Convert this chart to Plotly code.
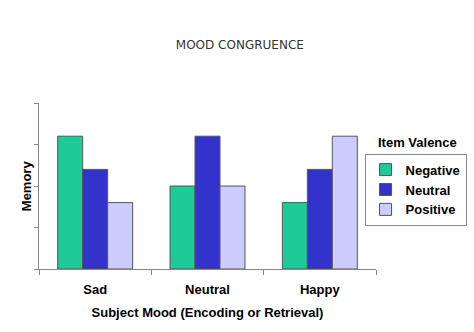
import plotly.graph_objects as go

moods = ["Sad", "Neutral", "Happy"]
negative = [3.2, 2.0, 1.6]
neutral = [2.4, 3.2, 2.4]
positive = [1.6, 2.0, 3.2]
y_ticks = [0, 1, 2, 3, 4]

series = [
    ("Negative", negative, "#1DCB99"),
    ("Neutral", neutral, "#3333CC"),
    ("Positive", positive, "#CCCCFF"),
]

fig = go.Figure()
for name, vals, col in series:
    fig.add_trace(go.Bar(
        x=moods, y=vals, name=name,
        marker=dict(color=col, line=dict(color="#555", width=1)),
    ))

fig.update_layout(
    width=474, height=332,
    margin=dict(l=39, r=98, t=103, b=63, autoexpand=False),
    paper_bgcolor="white", plot_bgcolor="white",
    barmode="group", bargap=0.333, bargroupgap=0,
    title=dict(text="MOOD CONGRUENCE", x=0.506, xanchor="center", y=0.865, yanchor="middle",
               font=dict(family="DejaVu Sans", size=12, color="#333")),
    font=dict(family="Liberation Sans, Arial", size=13, color="black"),
    legend=dict(
        x=0.966, xanchor="left", y=0.695, yanchor="top",
        bordercolor="#888", borderwidth=1,
        font=dict(size=13, family="Liberation Sans, Arial", color="black", weight="bold"),
        itemwidth=30, tracegroupgap=0,
    ),
    showlegend=True,
)
fig.add_annotation(text="<b>Item Valence</b>", xref="paper", yref="paper",
                   x=1.122, y=0.765, xanchor="center", yanchor="middle",
                   showarrow=False, font=dict(size=13, family="Liberation Sans, Arial"))
fig.add_annotation(text="<b>Memory</b>", xref="paper", yref="paper",
                   x=-0.038, y=0.5, xanchor="center", yanchor="middle", textangle=-90,
                   showarrow=False, font=dict(size=13, family="Liberation Sans, Arial"))

fig.update_xaxes(
    showline=True, linecolor="#888", linewidth=1,
    ticks="outside", ticklen=5, tickcolor="#888", tickson="boundaries",
    ticklabelstandoff=8,
    tickfont=dict(size=13, weight="bold"),
    title=dict(text="<b>Subject Mood (Encoding or Retrieval)</b>", standoff=12,
               font=dict(size=13)),
    showgrid=False,
)
fig.update_yaxes(
    range=[0, 4], tickvals=y_ticks, showticklabels=False,
    showline=True, linecolor="#888", linewidth=1,
    ticks="outside", ticklen=4, tickcolor="#888",
    showgrid=False, zeroline=False,
)

fig.write_html("out.html")
